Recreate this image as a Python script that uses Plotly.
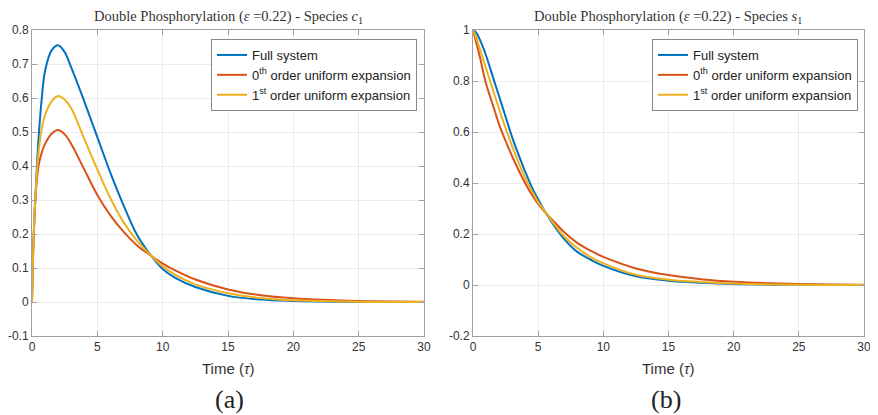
import plotly.graph_objects as go

# time samples (tau)
t_c1 = [0, 0.1, 0.25, 0.5, 0.75, 1, 1.5, 2, 2.5, 3, 4, 5, 6, 7, 8, 9, 10, 11, 12.5, 15, 17.5, 20, 25, 30]
c1_full = [0, 0.16, 0.3, 0.48, 0.6, 0.68, 0.74, 0.755, 0.735, 0.69, 0.59, 0.485, 0.38, 0.285, 0.2, 0.142, 0.097, 0.07, 0.044, 0.018, 0.007, 0.003, 0.0005, 0]
c1_zero = [0, 0.16, 0.3, 0.4, 0.44, 0.465, 0.495, 0.506, 0.493, 0.465, 0.39, 0.315, 0.255, 0.207, 0.168, 0.139, 0.113, 0.092, 0.066, 0.037, 0.02, 0.011, 0.003, 0.001]
c1_first = [0, 0.16, 0.3, 0.44, 0.51, 0.55, 0.59, 0.606, 0.595, 0.57, 0.48, 0.39, 0.305, 0.235, 0.182, 0.141, 0.105, 0.079, 0.052, 0.026, 0.012, 0.005, 0.001, 0]

t_s1 = [0, 0.25, 0.5, 1, 1.5, 2, 2.5, 3, 3.5, 4, 4.5, 5, 5.5, 6, 7, 8, 9, 10, 12.5, 15, 17.5, 20, 25, 30]
s1_full = [1, 0.99, 0.965, 0.9, 0.82, 0.74, 0.66, 0.58, 0.51, 0.445, 0.385, 0.335, 0.29, 0.25, 0.18, 0.13, 0.1, 0.075, 0.034, 0.017, 0.009, 0.004, 0.001, 0]
s1_zero = [1, 0.95, 0.9, 0.79, 0.71, 0.63, 0.565, 0.505, 0.45, 0.4, 0.355, 0.318, 0.287, 0.26, 0.207, 0.165, 0.135, 0.11, 0.065, 0.039, 0.023, 0.013, 0.004, 0.001]
s1_first = [1, 0.97, 0.93, 0.85, 0.77, 0.69, 0.615, 0.545, 0.48, 0.42, 0.37, 0.325, 0.29, 0.255, 0.19, 0.145, 0.11, 0.085, 0.04, 0.021, 0.012, 0.006, 0.001, 0]

names = ["Full system", "0<sup>th</sup> order uniform expansion", "1<sup>st</sup> order uniform expansion"]
colors = ["#0072BD", "#D95319", "#EDB120"]

x_ticks = [0, 5, 10, 15, 20, 25, 30]
c1_ticks = [0.8, 0.7, 0.6, 0.5, 0.4, 0.3, 0.2, 0.1, 0, -0.1]
c1_ticktext = ["0.8", "0.7", "0.6", "0.5", "0.4", "0.3", "0.2", "0.1", "0", "-0.1"]
s1_ticks = [1, 0.8, 0.6, 0.4, 0.2, 0, -0.2]
s1_ticktext = ["1", "0.8", "0.6", "0.4", "0.2", "0", "-0.2"]

# page body has an 8px margin, so the figure is made smaller and placed in page pixels
OFF = 8
W, H = 878 - OFF, 415 - OFF


def px(x):
    return (x - OFF) / W


def py(y):
    return 1 - (y - OFF) / H


fig = go.Figure()

for ys, name, col in zip([c1_full, c1_zero, c1_first], names, colors):
    fig.add_trace(go.Scatter(x=t_c1, y=ys, name=name, mode="lines",
                             line=dict(color=col, width=2, shape="spline", smoothing=1),
                             xaxis="x", yaxis="y", legend="legend"))
for ys, name, col in zip([s1_full, s1_zero, s1_first], names, colors):
    fig.add_trace(go.Scatter(x=t_s1, y=ys, name=name, mode="lines",
                             line=dict(color=col, width=2, shape="spline", smoothing=1),
                             xaxis="x2", yaxis="y2", legend="legend2"))

ax_common = dict(showline=True, linecolor="#a0a0a0", linewidth=1, mirror="ticks",
                 ticks="inside", ticklen=5, tickcolor="#a0a0a0", automargin=False,
                 showgrid=True, gridcolor="#ebebeb", gridwidth=1, zeroline=False,
                 tickfont=dict(family="Liberation Sans", size=12, color="#333333"))

ydom = [py(336), py(30)]

leg_common = dict(bgcolor="white", bordercolor="#888888", borderwidth=1,
                  font=dict(family="Liberation Sans", size=13, color="#222222"),
                  xanchor="left", yanchor="top", tracegroupgap=0, itemwidth=30)

fig.update_layout(
    template="none",
    width=W, height=H,
    margin=dict(l=0, r=0, t=0, b=0, pad=0, autoexpand=False),
    paper_bgcolor="white", plot_bgcolor="white",
    xaxis=dict(domain=[px(32), px(424)], range=[0, 30], tickvals=x_ticks, anchor="y", **ax_common),
    yaxis=dict(domain=ydom, range=[-0.1, 0.8], tickvals=c1_ticks, ticktext=c1_ticktext, anchor="x", **ax_common),
    xaxis2=dict(domain=[px(473), px(864)], range=[0, 30], tickvals=x_ticks, anchor="y2", **ax_common),
    yaxis2=dict(domain=ydom, range=[-0.2, 1], tickvals=s1_ticks, ticktext=s1_ticktext, anchor="x2", **ax_common),
    legend=dict(x=px(211), y=py(39), **leg_common),
    legend2=dict(x=px(652), y=py(39), **leg_common),
    showlegend=True,
)

title_font = dict(family="Liberation Serif", size=14.5, color="#333333")
label_font = dict(family="Liberation Sans", size=15, color="#333333")
cap_font = dict(family="Liberation Serif", size=26, color="#222222")

annots = [
    (228, 17, "Double Phosphorylation (<i>ε</i> =0.22) - Species <i>c</i><sub>1</sub>", title_font),
    (668, 17, "Double Phosphorylation (<i>ε</i> =0.22) - Species <i>s</i><sub>1</sub>", title_font),
    (228, 368, "Time (<i>τ</i>)", label_font),
    (668, 368, "Time (<i>τ</i>)", label_font),
    (229, 399, "(a)", cap_font),
    (666, 399, "(b)", cap_font),
]
for x, y, txt, f in annots:
    fig.add_annotation(x=px(x), y=py(y), xref="paper", yref="paper", text=txt, showarrow=False,
                       xanchor="center", yanchor="middle", font=f)

fig.write_html("out.html")
